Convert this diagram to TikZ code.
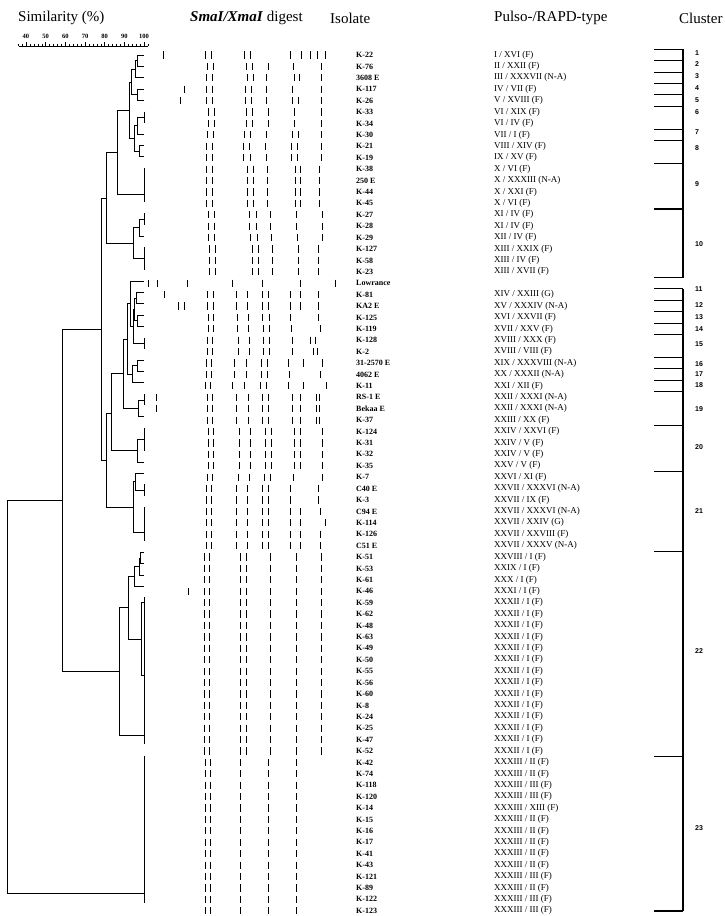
\documentclass[tikz,border=0pt]{standalone}
\usepackage{fontspec}
\setmainfont{Liberation Serif}
\newfontfamily\clfont{Liberation Sans}
\tikzset{
  dend/.style={line width=0.6pt},
  gband/.style={line width=0.9pt},
  cbar/.style={line width=1.1pt},
  iso/.style={anchor=west, inner sep=0, font=\fontsize{8}{8}\selectfont\bfseries},
  typ/.style={anchor=west, inner sep=0, font=\fontsize{9}{9}\selectfont},
  hdr/.style={anchor=west, inner sep=0, font=\fontsize{15}{15}\selectfont},
  cl/.style={anchor=west, inner sep=0, font=\clfont\bfseries\fontsize{7}{7}\selectfont},
  rl/.style={inner sep=0, font=\fontsize{6.5}{6.5}\selectfont\bfseries},
}
\newcommand\br[5]{\draw[dend] (#3,#2) -- (#1,#2) -- (#1,#4) -- (#5,#4);}
\newcommand\grp[2]{\draw[dend] (144,#1) -- (144,#2);}
\newcommand\gelrow[2]{\foreach \bx in {#2} {\draw[gband] (\bx,{55+(#1-1)*11.41-3.6}) -- (\bx,{55+(#1-1)*11.41+3.6});}}
\begin{document}
\begin{tikzpicture}[x=1pt,y=-1pt]
\useasboundingbox (0,0) rectangle (725,916);
% headers
\node[hdr] (hsim) at (18,18) {Similarity (\%)};
\node[hdr] (hgel) at (190,18) {\textbf{\textit{SmaI/XmaI}} digest};
\node[hdr] (hiso) at (330,18) {Isolate};
\node[hdr] (htyp) at (494,18) {Pulso-/RAPD-type};
\node[hdr] (hcl) at (679,18) {Cluster};
% ruler
\draw[line width=0.5pt] (19,46) -- (148,46);
\foreach \s in {36,38,...,102} {\draw[line width=0.4pt] ({26+(\s-40)*1.967},46) -- ({26+(\s-40)*1.967},43.5);}
\foreach \s in {40,50,...,100} {\draw[line width=0.5pt] ({26+(\s-40)*1.967},46) -- ({26+(\s-40)*1.967},41.5);
  \node[rl] (r\s) at ({26+(\s-40)*1.967},36) {\s};}
% isolates
\foreach \n [count=\i] in {K-22,K-76,3608 E,K-117,K-26,K-33,K-34,K-30,K-21,K-19,K-38,250 E,K-44,K-45,K-27,K-28,K-29,K-127,K-58,K-23,Lowrance,K-81,KA2 E,K-125,K-119,K-128,K-2,31-2570 E,4062 E,K-11,RS-1 E,Bekaa E,K-37,K-124,K-31,K-32,K-35,K-7,C40 E,K-3,C94 E,K-114,K-126,C51 E,K-51,K-53,K-61,K-46,K-59,K-62,K-48,K-63,K-49,K-50,K-55,K-56,K-60,K-8,K-24,K-25,K-47,K-52,K-42,K-74,K-118,K-120,K-14,K-15,K-16,K-17,K-41,K-43,K-121,K-89,K-122,K-123}
  {\node[iso] (iso\i) at (356,{55+(\i-1)*11.41}) {\n};}
% types
\foreach \n [count=\i] in {I / XVI (F),II / XXII (F),III / XXXVII (N-A),IV / VII (F),V / XVIII (F),VI / XIX (F),VI / IV (F),VII / I (F),VIII / XIV (F),IX / XV (F),X / VI (F),X / XXXIII (N-A),X / XXI (F),X / VI (F),XI / IV (F),XI / IV (F),XII / IV (F),XIII / XXIX (F),XIII / IV (F),XIII / XVII (F)}
  {\node[typ] (typ\i) at (494,{55+(\i-1)*11.41}) {\n};}
\foreach \n [count=\j from 22] in {XIV / XXIII (G),XV / XXXIV (N-A),XVI / XXVII (F),XVII / XXV (F),XVIII / XXX (F),XVIII / VIII (F),XIX / XXXVIII (N-A),XX / XXXII (N-A),XXI / XII (F),XXII / XXXI (N-A),XXII / XXXI (N-A),XXIII / XX (F),XXIV / XXVI (F),XXIV / V (F),XXIV / V (F),XXV / V (F),XXVI / XI (F),XXVII / XXXVI (N-A),XXVII / IX (F),XXVII / XXXVI (N-A),XXVII / XXIV (G),XXVII / XXVIII (F),XXVII / XXXV (N-A),XXVIII / I (F),XXIX / I (F),XXX / I (F),XXXI / I (F),XXXII / I (F),XXXII / I (F),XXXII / I (F),XXXII / I (F),XXXII / I (F),XXXII / I (F),XXXII / I (F),XXXII / I (F),XXXII / I (F),XXXII / I (F),XXXII / I (F),XXXII / I (F),XXXII / I (F),XXXII / I (F),XXXIII / II (F),XXXIII / II (F),XXXIII / III (F),XXXIII / III (F),XXXIII / XIII (F),XXXIII / II (F),XXXIII / II (F),XXXIII / II (F),XXXIII / II (F),XXXIII / II (F),XXXIII / III (F),XXXIII / II (F),XXXIII / III (F),XXXIII / III (F)}
  {\node[typ] (typ\j) at (494,{55+(\j-1)*11.41}) {\n};}
% clusters
\draw[cbar] (683,49.3) -- (683,277.5);
\foreach \t in {49.3,60.71,72.12,83.53,94.94,106.35,129.17,140.58,163.4,209.04,277.5} {\draw[cbar] (654,\t) -- (683,\t);}
\draw[cbar] (683,288.91) -- (683,911);
\foreach \t in {288.91,300.32,311.73,323.14,334.55,357.37,368.78,380.19,391.6,425.83,471.47,551.34,756.72,911} {\draw[cbar] (654,\t) -- (683,\t);}
\foreach \c/\yy in {1/52.7,2/64,3/76,4/88.3,5/100,6/111.7,7/132.3,8/147.7,9/184,10/244,11/289.3,12/305,13/316.7,14/328.7,15/344,16/364,17/374.3,18/385,19/409.3,20/447.3,21/510.7,22/651,23/828.3}
  {\node[cl] (cl\c) at (695,\yy) {\c};}
% gel bands (approximate)
\gelrow{1}{163,205,211,244,250,290,301,310,317,325}
\gelrow{2}{207,213,246,252,268,293,321}
\gelrow{3}{206,212,247,253,266,294,299,321}
\gelrow{4}{184,206,212,245,251,266,292,321}
\gelrow{5}{180,206,212,245,251,266,292,298,321}
\gelrow{6}{208,214,246,252,268,294,321}
\gelrow{7}{208,214,246,252,268,294,321}
\gelrow{8}{207,213,244,250,266,292,298,321}
\gelrow{9}{206,212,243,249,265,291,297,321}
\gelrow{10}{206,212,243,250,266,291,297,321}
\foreach \r in {11,...,14} {\gelrow{\r}{206,212,247,253,267,295,300,319}}
\foreach \r in {15,16} {\gelrow{\r}{208,214,249,256,270,296,322}}
\gelrow{17}{208,214,250,257,271,297,322}
\foreach \r in {18,19,20} {\gelrow{\r}{209,215,252,258,272,298,318}}
\gelrow{21}{148,157,187,232,262,300,335}
\gelrow{22}{164,207,213,236,247,262,268,290,300,318}
\gelrow{23}{178,184,207,213,236,247,262,268,290,300,318}
\gelrow{24}{208,213,237,248,262,269,290,318}
\gelrow{25}{208,213,237,248,263,269,291,320}
\gelrow{26}{207,212,238,249,263,269,292,310,315}
\gelrow{27}{207,212,238,249,263,269,292,313,317}
\gelrow{28}{206,211,234,246,261,267,288,303,322}
\gelrow{29}{206,211,234,246,261,267,289,320}
\gelrow{30}{205,210,232,244,260,266,288,303,326}
\foreach \r in {31,32} {\gelrow{\r}{156,207,212,236,248,262,268,292,300,316,319}}
\gelrow{33}{207,212,236,248,262,268,292,300,316,319}
\foreach \r in {34,...,37} {\gelrow{\r}{208,213,239,250,265,271,294,300,322}}
\gelrow{38}{207,212,238,249,264,270,293,322}
\foreach \r in {39,40} {\gelrow{\r}{206,211,236,247,262,268,290,318}}
\gelrow{41}{206,211,236,247,262,268,290,300,320}
\gelrow{42}{206,211,236,247,262,268,290,300,325}
\foreach \r in {43,44} {\gelrow{\r}{206,211,236,247,262,268,290,300,320}}
\foreach \r in {45,46,47} {\gelrow{\r}{204,209,240,246,270,296,321}}
\gelrow{48}{188,204,209,240,246,270,296,321}
\foreach \r in {49,...,62} {\gelrow{\r}{204,209,240,246,270,296,321}}
\foreach \r in {63,...,76} {\gelrow{\r}{205,210,240,268,296}}
% dendrogram
\br{137}{55}{144}{66.3}{144}
\br{135}{60.7}{137}{77.6}{144}
\br{137}{88.9}{144}{100.2}{144}
\br{131}{69}{135}{94.5}{137}
\grp{111.5}{122.8}
\br{137}{117}{144}{134.1}{144}
\br{139}{145.4}{144}{156.7}{144}
\br{134}{125.5}{137}{151}{139}
\br{129}{82}{131}{138}{134}
\grp{168}{201.9}
\br{117}{110}{129}{194}{144}
\grp{213.2}{224.5}
\br{139}{219}{144}{235.8}{144}
\grp{247.1}{269.7}
\br{133}{227}{139}{258}{144}
\br{106}{152}{117}{243}{133}
\br{136}{292.3}{144}{303.6}{144}
\br{137}{314.9}{144}{326.2}{144}
\br{134}{298}{136}{320.5}{137}
\grp{337.5}{348.8}
\br{133}{309}{134}{343}{144}
\br{130}{281}{144}{326}{133}
\br{137}{360.1}{144}{371.4}{144}
\br{132}{365.7}{137}{382.7}{144}
\grp{394}{405.3}
\br{138}{400}{144}{416.6}{144}
\br{127}{303.5}{130}{374}{132}
\br{123}{339}{127}{408}{138}
\grp{427.9}{450.5}
\br{137}{439}{144}{461.8}{144}
\br{111}{373}{123}{450}{137}
\grp{484.4}{495.7}
\br{135}{473.1}{144}{490}{144}
\grp{507}{540.9}
\br{133}{481.5}{135}{532}{144}
\br{106}{413}{111}{507}{133}
\br{101}{198}{106}{460}{106}
\br{140}{552.2}{144}{563.5}{144}
\br{139}{558}{140}{574.8}{144}
\br{134}{566}{139}{586.1}{144}
\grp{597.4}{744.3}
\br{141.7}{602}{144}{675}{144}
\br{128}{576}{134}{639}{141.7}
\br{119}{607}{128}{735}{144}
\br{62}{329}{101}{671}{119}
\grp{755.6}{902.5}
\br{7}{500}{62}{893}{144}
\end{tikzpicture}
\end{document}
